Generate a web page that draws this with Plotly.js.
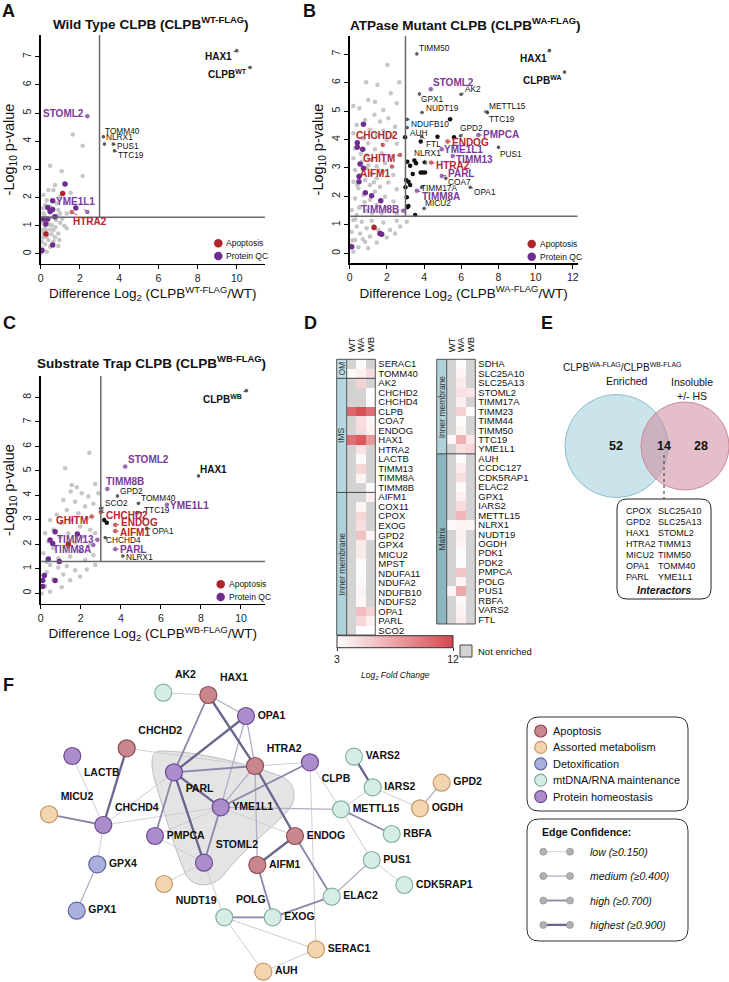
<!DOCTYPE html>
<html><head><meta charset="utf-8">
<script src="https://cdn.plot.ly/plotly-3.0.1.min.js"></script>
<style>html,body{margin:0;padding:0;background:#fff}</style>
</head><body><div id="chart" style="width:729px;height:982px"></div>
<script>
// ================= DATA =================
// Panel A : Wild type
const aGrayX = [1.63,2.14,0.48,1.07,2.14,0.73,0.39,0.65,1.53,0.14,0.31,0.99,1.24,0.82,0.22,0.48,0.9,0.99,1.33,0.14,0.1,0.1,0.22,0.48,0.65,0.99,1.33,0.9,0.14,0.39,0.73,0.95,0.22,0.48,0.9,0.05,0.31,0.14,0.27,0.56,0.78,0.1,0.65,0.05,0.0,0.6,0.35,0.2,1.1,0.45,0.75,0.3,0.55,1.2,0.85];
const aGrayY = [4.24,3.84,3.13,2.94,2.77,2.45,2.27,2.27,2.17,2.09,1.91,2.03,1.8,1.8,1.74,1.68,1.56,1.44,1.44,1.44,1.62,1.11,0.97,0.87,0.85,1.11,0.91,0.73,0.59,0.5,0.59,0.5,0.35,0.26,0.28,0.2,0.08,0.73,0.85,1.03,1.21,0.85,0.44,0.44,0.02,1.3,1.2,1.35,1.25,1.05,0.95,0.62,0.7,1.0,1.35];
const aPurpleX = [1.24,0.61,0.36,0.48,0.61,1.79,0.73,0.14,0.36,0.26,0.61,0.07];
const aPurpleY = [2.48,1.89,1.65,1.51,1.58,1.63,1.32,1.24,1.24,1.06,0.32,0.12];
const aRedX = [1.12,0.27];
const aRedY = [2.15,0.71];
const aLabelGenes = ['HAX1','CLPB<sup>WT</sup>','STOML2','TOMM40','NLRX1','PUS1','TTC19','YME1L1','HTRA2'];
const aLabelX = [10.0,10.68,2.38,3.2,3.25,3.7,3.76,2.38,1.58];
const aLabelY = [7.21,6.62,4.89,4.16,3.9,3.9,3.66,1.49,1.49];
const aLabelGroup = ['black','black','purple','black','black','black','black','purple','red'];

// Panel B : ATPase mutant
const bGrayX = [2.03,0.88,2.67,1.49,2.21,1.0,1.36,0.2,0.52,1.81,2.53,1.33,2.08,0.83,1.63,0.38,2.44,1.09,1.81,0.2,1.45,2.26,0.74,1.99,0.99,2.53,0.29,1.36,1.72,0.91,2.17,0.2,1.18,0.65,1.9,1.45,0.91,0.29,1.81,1.18,0.56,2.35,1.45,0.83,0.2,2.08,1.09,1.63,0.47,2.53,1.36,0.74,1.9,0.29,1.09,2.35,1.45,0.56,1.99,0.11,0.91,1.72,2.53,0.38,0.2,0.65,1.18,1.81,2.53,0.38,0.91,1.54,2.17,0.11,0.56,1.09,1.99,0.29,0.83,1.45,0.02,0.47,0.99,0.2,3.07,2.71,2.44,0.6,1.0,0.4,1.3,0.8,1.6,0.5,1.2,0.3,0.7,1.3,0.15];
const bGrayY = [6.62,6.01,6.01,5.92,5.63,5.39,5.33,5.18,5.1,5.04,5.28,4.87,4.75,4.69,4.63,4.51,4.45,4.34,4.31,4.22,4.16,4.13,4.04,3.99,3.87,3.85,3.69,3.66,3.52,3.46,3.4,3.34,3.28,3.22,3.17,3.05,2.99,2.93,2.87,2.81,2.75,2.75,2.64,2.58,2.52,2.49,2.4,2.34,2.29,2.25,2.17,2.05,1.99,1.93,1.88,1.82,1.7,1.64,1.58,1.52,1.5,1.41,1.41,1.35,1.17,1.11,1.15,1.08,1.15,0.94,0.88,0.82,0.82,0.76,0.7,0.59,0.56,0.47,0.41,0.38,0.29,0.21,0.18,0.06,1.11,0.94,0.7,3.5,3.1,2.4,2.5,1.8,2.9,1.6,1.4,1.2,0.5,0.95,0.45];
const bBlackX = [2.98,3.1,3.25,3.48,3.57,4.05,3.39,3.82,3.93,4.05,3.03,3.16,3.25,3.0,3.07,3.16,3.1,3.52,5.4,4.72,3.82,5.61];
const bBlackY = [4.08,3.22,3.08,3.26,3.17,3.19,2.79,2.84,2.84,2.84,2.58,2.52,2.4,2.32,1.97,1.66,1.62,1.35,4.71,4.1,3.93,4.08];
const bPurpleX = [0.74,0.41,0.41,0.7,0.56,0.74,0.5,0.5,0.84,1.18,1.67,1.63,1.72,0.11];
const bPurpleY = [4.54,3.89,3.73,3.66,3.14,2.99,2.7,2.52,2.13,2.02,1.85,0.7,0.67,0.23];
const bRedX = [1.31];
const bRedY = [0.91];
const bLabelGenes = ['TIMM50','HAX1','CLPB<sup>WA</sup>','STOML2','AK2','GPX1','NUDT19','METTL15','TTC19','NDUFB10','AUH','FTL','GPD2','PMPCA','ENDOG','PUS1','YME1L1','TIMM13','NLRX1','HTRA2','PARL','COA7','OPA1','TIMM17A','TIMM8A','MICU2','TIMM8B','CHCHD2','GHITM','AIFM1'];
const bLabelX = [3.61,10.74,11.55,4.36,5.99,3.75,3.89,7.32,7.41,3.09,3.09,3.87,5.97,6.92,5.26,8.0,4.95,5.54,4.0,4.38,4.95,5.17,6.48,3.87,3.61,4.0,2.89,1.78,2.71,2.27];
const bLabelY = [7.01,7.13,6.37,5.77,5.59,5.6,4.95,4.98,4.95,4.71,4.42,4.1,4.13,4.16,3.93,3.73,3.66,3.42,3.2,3.19,2.72,2.64,2.32,2.32,2.2,1.58,1.5,3.81,3.46,3.05];
const bLabelGroup = ['black','black','black','purple','black','black','black','black','black','black','black','black','black','purple','red','black','purple','purple','black','red','purple','black','black','black','purple','black','purple','red','red','red'];

// Panel C : Substrate trap
const cGrayX = [2.43,1.22,1.55,1.8,2.72,1.5,2.05,2.38,2.88,1.13,1.72,2.22,2.63,1.3,1.88,0.8,2.3,1.55,0.47,1.05,1.97,2.47,0.63,1.38,0.22,0.97,2.13,2.72,0.38,1.72,2.47,1.22,0.63,1.97,0.13,2.63,1.47,0.88,2.22,0.3,0.47,0.88,1.3,1.72,2.3,0.3,1.13,1.97,0.63,1.47,0.22,1.05,0.47,0.05,2.72,0.13];
const cGrayY = [5.74,5.1,4.42,4.33,4.46,4.15,4.08,3.95,4.08,3.81,3.74,3.54,3.65,3.4,3.27,3.2,3.06,2.99,2.99,2.86,2.72,2.59,2.59,2.45,2.45,2.29,2.31,2.45,2.11,2.07,1.97,1.9,1.84,1.7,1.63,1.56,1.5,1.43,1.36,1.29,1.15,1.05,1.11,0.94,0.97,0.86,0.76,0.68,0.56,0.53,0.29,0.24,0.06,-0.01,1.15,0.53];
const cBlackX = [3.17,3.3,3.02];
const cBlackY = [2.99,2.88,3.4];
const cPurpleX = [0.72,0.47,0.6,1.83,0.38,0.93,0.18,0.1,0.1,0.72];
const cPurpleY = [2.51,2.17,2.03,2.42,1.4,1.3,0.72,0.52,0.27,0.52];
const cRedX = [1.38];
const cRedY = [2.0];
const cLabelGenes = ['CLPB<sup>WB</sup>','HAX1','STOML2','TIMM8B','GPD2','TOMM40','YME1L1','SCO2','TTC19','CHCHD2','GHITM','ENDOG','AIFM1','OPA1','CHCHD4','TIMM13','TIMM8A','PARL','NLRX1'];
const cLabelX = [10.27,7.88,4.22,3.33,3.83,4.88,6.3,3.0,4.8,3.0,2.55,3.72,3.72,5.3,3.22,2.83,2.63,3.72,4.1];
const cLabelY = [8.27,4.79,5.17,4.26,3.97,3.67,3.61,3.47,3.27,3.31,3.13,2.79,2.54,2.65,2.27,2.18,1.97,1.8,1.52];
const cLabelGroup = ['black','black','purple','purple','black','black','purple','black','black','red','red','red','red','black','black','purple','purple','purple','black'];

const pThreshold = 1.3;
const fcThreshold = 3;

// Panel D : heatmaps (Log2 fold change, null = not enriched)
const dColumns = ['WT','WA','WB'];
const dLeftGenes = ['SERAC1','TOMM40','AK2','CHCHD2','CHCHD4','CLPB','COA7','ENDOG','HAX1','HTRA2','LACTB','TIMM13','TIMM8A','TIMM8B','AIFM1','COX11','CPOX','EXOG','GPD2','GPX4','MICU2','MPST','NDUFA11','NDUFA2','NDUFB10','NDUFS2','OPA1','PARL','SCO2'];
const dLeftWT = [null,3.3,null,null,null,10.5,null,null,10.0,null,null,null,null,null,null,null,null,null,null,null,null,null,null,null,null,null,null,null,null];
const dLeftWA = [3.3,3.8,5.2,null,null,11.5,4.6,4.8,11.0,4.4,3.3,5.0,3.6,null,null,3.6,5.0,4.6,6.0,4.0,4.0,3.2,3.2,3.3,3.5,3.3,6.2,5.0,3.1];
const dLeftWB = [null,4.8,null,3.1,3.2,10.0,3.6,3.8,8.0,null,null,null,null,3.3,3.8,null,null,null,3.6,null,null,null,null,null,null,null,5.2,3.8,3.1];
const dLeftGroups = ['OM','IMS','Inner membrane'];
const dLeftGroupSizes = [2,12,15];
const dRightGenes = ['SDHA','SLC25A10','SLC25A13','STOML2','TIMM17A','TIMM23','TIMM44','TIMM50','TTC19','YME1L1','AUH','CCDC127','CDK5RAP1','ELAC2','GPX1','IARS2','METTL15','NLRX1','NUDT19','OGDH','PDK1','PDK2','PMPCA','POLG','PUS1','RBFA','VARS2','FTL'];
const dRightWT = [null,null,null,null,null,null,null,null,3.4,null,null,null,null,null,null,null,null,3.3,null,null,null,null,null,null,3.5,null,null,null];
const dRightWA = [3.2,3.5,4.0,4.4,3.8,5.2,3.2,3.6,6.8,4.5,3.2,3.9,4.6,3.3,3.8,4.8,6.5,3.6,3.7,3.5,3.2,3.2,5.8,3.5,7.2,3.4,3.6,3.9];
const dRightWB = [null,null,null,4.2,null,3.2,null,null,4.2,5.0,null,null,null,null,null,null,null,3.6,null,null,null,null,null,null,null,null,null,null];
const dRightGroups = ['Inner membrane','Matrix'];
const dRightGroupSizes = [10,18];
const dScaleMin = 3, dScaleMax = 12;

// Panel E : Venn
const vennLeftOnly = 52, vennShared = 14, vennRightOnly = 28;
const interactorsCol1 = ['CPOX','GPD2','HAX1','HTRA2','MICU2','OPA1','PARL'];
const interactorsCol2 = ['SLC25A10','SLC25A13','STOML2','TIMM13','TIMM50','TOMM40','YME1L1'];

// Panel F : network (layout coordinates)
const nodeNames = ['AK2','HAX1','OPA1','CHCHD2','LACTB','PARL','HTRA2','CLPB','VARS2','IARS2','GPD2','OGDH','MICU2','CHCHD4','YME1L1','METTL15','PMPCA','ENDOG','RBFA','STOML2','AIFM1','PUS1','GPX4','NUDT19','CDK5RAP1','ELAC2','GPX1','POLG','EXOG','SERAC1','AUH'];
const nodeX = [163.3,208.3,246,126.7,72.3,174,255,310,354,372.7,441.7,420,49,103.3,220.7,341,155,295,391.7,204,257.3,371.7,97.3,164,404.3,331.7,76.7,224.3,272.7,316,263.3];
const nodeY = [692.7,695,716,748.3,756,772.3,766,762.3,756.7,787.3,782.7,808.3,814.3,825,807.3,809.3,836,836,834,862.7,865,860,864.3,884,885,896.7,910.7,917.3,917.3,949.3,971.7];
const nodeCategory = ['mt','apo','prot','apo','prot','prot','apo','prot','mt','mt','met','met','met','prot','prot','mt','prot','apo','mt','prot','apo','mt','detox','met','mt','mt','detox','mt','mt','met','met'];
const edgeFrom = ['AK2','HAX1','HAX1','HAX1','OPA1','OPA1','OPA1','CHCHD2','CHCHD2','LACTB','MICU2','CHCHD4','CHCHD4','CHCHD4','GPX4','PARL','PARL','PARL','PARL','HTRA2','HTRA2','HTRA2','HTRA2','YME1L1','YME1L1','YME1L1','YME1L1','YME1L1','PMPCA','STOML2','STOML2','ENDOG','ENDOG','AIFM1','CLPB','CLPB','VARS2','IARS2','IARS2','GPD2','METTL15','METTL15','PUS1','PUS1','ELAC2','POLG','POLG','POLG','AUH'];
const edgeTo   = ['HAX1','OPA1','PARL','HTRA2','PARL','HTRA2','YME1L1','CHCHD4','HTRA2','CHCHD4','CHCHD4','PARL','YME1L1','GPX4','GPX1','HTRA2','YME1L1','PMPCA','STOML2','CLPB','YME1L1','ENDOG','AIFM1','CLPB','STOML2','PMPCA','METTL15','ENDOG','STOML2','NUDT19','POLG','AIFM1','ELAC2','EXOG','METTL15','SERAC1','IARS2','METTL15','OGDH','OGDH','RBFA','PUS1','CDK5RAP1','ELAC2','EXOG','EXOG','SERAC1','AUH','SERAC1'];
const edgeConf = [1,2,3,4,4,2,2,4,1,1,3,1,1,1,2,3,4,3,4,1,2,4,2,3,3,1,2,1,1,1,1,4,3,3,1,1,4,1,1,2,3,1,1,2,3,3,1,1,1];

// ================= STYLE / LAYOUT =================
const W = 729, H = 982;
const FONT = 'Liberation Sans, Arial, Helvetica, sans-serif';
const dx = (a,b) => [a/W, b/W];
const dy = (a,b) => [1-b/H, 1-a/H];
const COL = {gray:'#c6c6c6', black:'#111111', red:'#b0242c', purple:'#6f2d91'};
const TXT = {red:'#b3262d', purple:'#7a3a9a', black:'#111111'};

const traces = [];
const annotations = [];
const shapes = [];

function scatterPanel(xa, ya, gx, gy, kx, ky, px_, py_, rx, ry, lg, lx, ly, lgrp, offsets) {
  traces.push({type:'scatter', mode:'markers', x:gx, y:gy, xaxis:xa, yaxis:ya, marker:{size:4.5, color:COL.gray}, cliponaxis:false, hoverinfo:'skip'});
  if (kx) traces.push({type:'scatter', mode:'markers', x:kx, y:ky, xaxis:xa, yaxis:ya, marker:{size:4.5, color:COL.black}, cliponaxis:false, hoverinfo:'skip'});
  traces.push({type:'scatter', mode:'markers', x:rx, y:ry, xaxis:xa, yaxis:ya, marker:{size:5.5, color:COL.red}, cliponaxis:false, hoverinfo:'skip'});
  traces.push({type:'scatter', mode:'markers', x:px_, y:py_, xaxis:xa, yaxis:ya, marker:{size:5.5, color:COL.purple}, cliponaxis:false, hoverinfo:'skip'});
  traces.push({type:'scatter', mode:'markers', x:lx, y:ly, xaxis:xa, yaxis:ya, marker:{size:lgrp.map(g=>g==='black'?4.5:5.5), color:lgrp.map(g=>COL[g])}, cliponaxis:false, hoverinfo:'skip'});
  lg.forEach((g,i)=>{
    const grp = lgrp[i];
    const big = g.startsWith('HAX1') || g.startsWith('CLPB');
    let text, size;
    if (grp === 'black') { text = big ? '<b>'+g+'</b>' : g; size = big ? 10 : 8.3; }
    else { text = '<b>'+g+'</b>'; size = 10; }
    const off = offsets[g];
    annotations.push({x:lx[i], y:ly[i], xref:xa, yref:ya, text:text, showarrow:true, arrowhead:0, arrowwidth:0.8,
      arrowcolor: TXT[grp], ax:off[0], ay:off[1], standoff:1.5, font:{size:size, color:TXT[grp], family:FONT}});
  });
}

const offA = {'HAX1':[-18,6],'CLPB<sup>WT</sup>':[-23,7],'STOML2':[-24,-3],'TOMM40':[19,-6],'NLRX1':[15,-7],'PUS1':[15,2],'TTC19':[17,4],'YME1L1':[-12,-10],'HTRA2':[18,10]};
const offB = {'TIMM50':[18,-6],'HAX1':[-16,8],'CLPB<sup>WA</sup>':[-22,8],'STOML2':[23,-7],'AK2':[12,-5],'GPX1':[13,5],'NUDT19':[20,-5],'METTL15':[22,-6],'TTC19':[14,6],'NDUFB10':[23,5],'AUH':[12,5],'FTL':[12,7],'GPD2':[11,-8],'PMPCA':[23,0],'ENDOG':[23,1],'PUS1':[13,7],'YME1L1':[22,0],'TIMM13':[22,3],'NLRX1':[3,-9],'HTRA2':[22,3],'PARL':[19,-2],'COA7':[14,4],'OPA1':[15,5],'TIMM17A':[17,1],'TIMM8A':[24,6],'MICU2':[14,-5],'TIMM8B':[-23,-1],'CHCHD2':[-6,-9],'GHITM':[-21,4],'AIFM1':[-17,7]};
const offC = {'CLPB<sup>WB</sup>':[-24,8],'HAX1':[15,-6],'STOML2':[23,-7],'TIMM8B':[18,-7],'GPD2':[14,-5],'TOMM40':[20,-5],'YME1L1':[23,1],'SCO2':[16,-5],'TTC19':[20,-3],'CHCHD2':[26,3],'GHITM':[-20,4],'ENDOG':[24,-2],'AIFM1':[20,1],'OPA1':[16,3],'CHCHD4':[18,2],'TIMM13':[-22,0],'TIMM8A':[-21,5],'PARL':[18,0],'NLRX1':[17,1]};

scatterPanel('x','y',aGrayX,aGrayY,null,null,aPurpleX,aPurpleY,aRedX,aRedY,aLabelGenes,aLabelX,aLabelY,aLabelGroup,offA);
scatterPanel('x2','y2',bGrayX,bGrayY,bBlackX,bBlackY,bPurpleX,bPurpleY,bRedX,bRedY,bLabelGenes,bLabelX,bLabelY,bLabelGroup,offB);
scatterPanel('x3','y3',cGrayX,cGrayY,cBlackX,cBlackY,cPurpleX,cPurpleY,cRedX,cRedY,cLabelGenes,cLabelX,cLabelY,cLabelGroup,offC);

// thresholds
[['x','y',11.44,7.77],['x2','y2',12.26,7.65],['x3','y3',11.2,8.87]].forEach(([xa,ya,xmax,ytop])=>{
  shapes.push({type:'line', xref:xa, yref:ya, x0:0, x1:xmax, y0:pThreshold, y1:pThreshold, line:{color:'#6a6a6a', width:1.5}});
  shapes.push({type:'line', xref:xa, yref:ya, x0:fcThreshold, x1:fcThreshold, y0:pThreshold, y1:ytop, line:{color:'#6a6a6a', width:1.5}});
});

// axis styling
const axBase = {showline:true, linecolor:'#000', linewidth:1.2, ticks:'outside', ticklen:4, tickwidth:1, tickcolor:'#000',
  showgrid:false, zeroline:false, tickfont:{size:10.5, color:'#222', family:FONT}, fixedrange:true};
function xAx(dom, range, tv, title, anchor){
  return Object.assign({}, axBase, {domain:dom, range:range, tickvals:tv, anchor:anchor,
    title:{text:title, font:{size:13.5, color:'#111', family:FONT}, standoff:3}});
}
function yAx(dom, range, tv, anchor){
  return Object.assign({}, axBase, {domain:dom, range:range, tickvals:tv, anchor:anchor, tickangle:-90,
    title:{text:'-Log<sub>10</sub> p-value', font:{size:14.5, color:'#111', family:FONT}, standoff:3}});
}

// annotations on the pixel overlay axis x6/y6
function pann(x, y, text, size, opts) {
  annotations.push(Object.assign({x:x, y:y, xref:'x6', yref:'y6', text:text, showarrow:false,
    font:{size:size, color:'#111', family:FONT}}, opts||{}));
}
pann(151, 23, '<b>Wild Type CLPB (CLPB<sup>WT-FLAG</sup>)</b>', 13.5);
pann(465.5, 23.5, '<b>ATPase Mutant CLPB (CLPB<sup>WA-FLAG</sup>)</b>', 13.5);
pann(151.7, 362, '<b>Substrate Trap CLPB (CLPB<sup>WB-FLAG</sup>)</b>', 13.5);
[['A',8,11],['B',309,11],['C',9,323],['D',310,323],['E',547,323],['F',8,685]].forEach(([t,x,y])=>pann(x,y,'<b>'+t+'</b>',18));

const legPos = [[218.3,243.3],[531.7,244],[220.7,584.3]];
const legX = [], legY = [], legC = [];
legPos.forEach(([x,y])=>{
  legX.push(x, x); legY.push(y, y+12.7); legC.push(COL.red, COL.purple);
  pann(x+6, y, 'Apoptosis', 8.5, {xanchor:'left'});
  pann(x+6, y+12.7, 'Protein QC', 8.5, {xanchor:'left'});
});
traces.push({type:'scatter', mode:'markers', x:legX, y:legY, xaxis:'x6', yaxis:'y6', marker:{size:8.5, color:legC}, hoverinfo:'skip', cliponaxis:false});

// ---------- Panel D heatmaps ----------
const heatScale = [[0,'#ffffff'],[1,'#d6474d']];
function heatPanel(genes, wt, wa, wb, xa, ya, showscale) {
  const z = genes.map((g,i)=>[wt[i], wa[i], wb[i]]);
  const mask = z.map(r=>r.map(v=> v===null ? 1 : null));
  traces.push({type:'heatmap', x:dColumns, y:genes, z:mask, xaxis:xa, yaxis:ya, zmin:0, zmax:1,
    colorscale:[[0,'#d3d3d3'],[1,'#d3d3d3']], showscale:false, hoverinfo:'skip'});
  const t = {type:'heatmap', x:dColumns, y:genes, z:z, xaxis:xa, yaxis:ya, zmin:dScaleMin, zmax:dScaleMax,
    colorscale:heatScale, showscale:showscale, hoverinfo:'skip'};
  if (showscale) t.colorbar = {orientation:'h', thickness:12, thicknessmode:'pixels', len:116, lenmode:'pixels',
    x:395/W, xanchor:'center', y:1-651/H, yanchor:'middle', xpad:0, ypad:0, outlinewidth:1, outlinecolor:'#333',
    tickvals:[dScaleMin, dScaleMax], ticks:'outside', ticklen:3, tickcolor:'#333', tickfont:{size:10.5, family:FONT, color:'#222'}};
  traces.push(t);
}
heatPanel(dLeftGenes, dLeftWT, dLeftWA, dLeftWB, 'x4', 'y4', true);
heatPanel(dRightGenes, dRightWT, dRightWA, dRightWB, 'x5', 'y5', false);

const groupColors = {'OM':'#c0dee4','IMS':'#b6d7df','Inner membrane':'#b0d2db','Matrix':'#8cb6c0'};
function catBar(groups, sizes, top, bottom, bx0, bx1, cx1) {
  const n = sizes.reduce((a,b)=>a+b,0);
  const rh = (bottom-top)/n;
  let r = 0;
  groups.forEach((g,i)=>{
    const y0 = top + r*rh, y1 = top + (r+sizes[i])*rh;
    shapes.push({type:'rect', xref:'x6', yref:'y6', x0:bx0, x1:bx1, y0:y0, y1:y1, fillcolor:groupColors[g], line:{width:0}, layer:'below'});
    pann((bx0+bx1)/2, (y0+y1)/2, g, 8.5, {textangle:-90, font:{size:8.5, color:'#333', family:FONT}});
    if (i < groups.length-1) shapes.push({type:'line', xref:'x6', yref:'y6', x0:bx0, x1:cx1, y0:y1, y1:y1, line:{color:'#333', width:0.9}});
    r += sizes[i];
  });
  shapes.push({type:'rect', xref:'x6', yref:'y6', x0:bx0, x1:cx1, y0:top, y1:bottom, line:{color:'#444', width:0.9}});
  shapes.push({type:'line', xref:'x6', yref:'y6', x0:bx1, x1:bx1, y0:top, y1:bottom, line:{color:'#444', width:0.9}});
}
catBar(dLeftGroups, dLeftGroupSizes, 359.3, 635, 336.7, 346.7, 375.3);
catBar(dRightGroups, dRightGroupSizes, 359.3, 624, 436.7, 446.7, 475.3);

shapes.push({type:'rect', xref:'x6', yref:'y6', x0:460, x1:472, y0:645, y1:657, fillcolor:'#d3d3d3', line:{color:'#333', width:0.9}});
pann(476, 651, 'Not enriched', 9.5, {xanchor:'left'});
pann(395, 675, '<i>Log<sub>2</sub> Fold Change</i>', 8.5);

// ---------- Panel E Venn ----------
shapes.push({type:'circle', xref:'x6', yref:'y6', x0:565, x1:668, y0:394.5, y1:497.5, fillcolor:'rgba(168,208,221,0.6)', line:{color:'#8dbdcb', width:1}});
shapes.push({type:'circle', xref:'x6', yref:'y6', x0:641, x1:729, y0:402, y1:490, fillcolor:'rgba(205,137,157,0.55)', line:{color:'#c98b9d', width:1}});
pann(616, 446, '<b>'+vennLeftOnly+'</b>', 12.5);
pann(664, 446, '<b>'+vennShared+'</b>', 12.5);
pann(701, 446, '<b>'+vennRightOnly+'</b>', 12.5);
pann(622, 367, 'CLPB<sup>WA-FLAG</sup>/CLPB<sup>WB-FLAG</sup>', 10);
pann(627, 381, 'Enriched', 10.5);
pann(692, 382, 'Insoluble', 10.5);
pann(692, 396, '+/- HS', 10.5);
shapes.push({type:'line', xref:'x6', yref:'y6', x0:664, x1:664, y0:455, y1:499, line:{color:'#333', width:1, dash:'dot'}});
function rr(x0,y0,x1,y1,r){return `M${x0+r},${y0} L${x1-r},${y0} Q${x1},${y0} ${x1},${y0+r} L${x1},${y1-r} Q${x1},${y1} ${x1-r},${y1} L${x0+r},${y1} Q${x0},${y1} ${x0},${y1-r} L${x0},${y0+r} Q${x0},${y0} ${x0+r},${y0} Z`;}
shapes.push({type:'path', xref:'x6', yref:'y6', path:rr(617,499,711,599,10), fillcolor:'#ffffff', line:{color:'#222', width:1}});
interactorsCol1.forEach((g,i)=>pann(624, 510.5+i*11.1, g, 9, {xanchor:'left'}));
interactorsCol2.forEach((g,i)=>pann(656, 510.5+i*11.1, g, 9, {xanchor:'left'}));
pann(664, 590, '<b><i>Interactors</i></b>', 10.5);

// ---------- Panel F network ----------
const catStyle = {
  apo:{fill:'#c9878d', line:'#8e4b53', name:'Apoptosis'},
  met:{fill:'#f3d5b0', line:'#c49a6c', name:'Assorted metabolism'},
  detox:{fill:'#aab0db', line:'#5e65a3', name:'Detoxification'},
  mt:{fill:'#d5ede6', line:'#86b0a4', name:'mtDNA/RNA maintenance'},
  prot:{fill:'#ab8ccc', line:'#6d4b90', name:'Protein homeostasis'}
};
const confStyle = {1:{w:1,c:'#cdcdd5'},2:{w:1.3,c:'#b0b0c4'},3:{w:1.8,c:'#8787a8'},4:{w:2.3,c:'#66668e'}};
const labelPos = {AK2:'top right',HAX1:'top right',CHCHD2:'top right',LACTB:'bottom right',PARL:'bottom right',HTRA2:'top right',CLPB:'bottom right',MICU2:'top right',CHCHD4:'top right',STOML2:'top right',NUDT19:'bottom right',POLG:'top right'};

shapes.push({type:'path', xref:'x6', yref:'y6', layer:'below',
  path:'M160,751 C200,751 250,765 280,776 C297,782 298,801 286,813 C266,833 242,851 226,872 C215,888 194,889 186,875 C175,850 165,815 155,781 C150,763 151,751 160,751 Z',
  fillcolor:'#e4e4e4', line:{color:'#bdbdbd', width:1}});

[1,2,3,4].forEach(c=>{
  const ex = [], ey = [];
  edgeFrom.forEach((f,i)=>{
    if (edgeConf[i] !== c) return;
    const a = nodeNames.indexOf(f), b = nodeNames.indexOf(edgeTo[i]);
    ex.push(nodeX[a], nodeX[b], null); ey.push(nodeY[a], nodeY[b], null);
  });
  traces.push({type:'scatter', mode:'lines', x:ex, y:ey, xaxis:'x6', yaxis:'y6', line:{color:confStyle[c].c, width:confStyle[c].w}, hoverinfo:'skip', cliponaxis:false});
});
traces.push({type:'scatter', mode:'markers+text', x:nodeX, y:nodeY, xaxis:'x6', yaxis:'y6',
  text:nodeNames.map(n=>'<b>'+n+'</b>'),
  textposition:nodeNames.map(n=>labelPos[n]||'middle right'),
  textfont:{size:10.5, color:'#111', family:FONT},
  marker:{size:17, color:nodeCategory.map(c=>catStyle[c].fill), line:{color:nodeCategory.map(c=>catStyle[c].line), width:1.2}},
  hoverinfo:'skip', cliponaxis:false});

// legends for F
shapes.push({type:'path', xref:'x6', yref:'y6', path:rr(527,717,688,811,12), line:{color:'#333', width:1}});
shapes.push({type:'path', xref:'x6', yref:'y6', path:rr(527,819,688,941,12), line:{color:'#333', width:1}});
const catOrder = ['apo','met','detox','mt','prot'];
const lgx = [], lgy = [];
catOrder.forEach((c,i)=>{
  const y = 731 + i*16.4;
  lgx.push(540.7); lgy.push(y);
  pann(551, y, catStyle[c].name, 11, {xanchor:'left'});
});
traces.push({type:'scatter', mode:'markers', x:lgx, y:lgy, xaxis:'x6', yaxis:'y6',
  marker:{size:12, color:catOrder.map(c=>catStyle[c].fill), line:{color:catOrder.map(c=>catStyle[c].line), width:1.2}}, hoverinfo:'skip'});
pann(540, 832, '<b>Edge Confidence:</b>', 10.5, {xanchor:'left'});
const confLabels = ['low (≥0.150)','medium (≥0.400)','high (≥0.700)','highest (≥0.900)'];
confLabels.forEach((t,i)=>{
  const y = 851.7 + i*24.4, c = confStyle[i+1];
  traces.push({type:'scatter', mode:'lines+markers', x:[543.3,570], y:[y,y], xaxis:'x6', yaxis:'y6',
    line:{color:c.c, width:c.w}, marker:{size:7, color:'#b0b0b0', line:{color:'#999', width:0.8}}, hoverinfo:'skip'});
  pann(587.7, y, '<i>'+t+'</i>', 10.5, {xanchor:'left'});
});

// ================= LAYOUT =================
const heatX = (dom, anchor) => ({domain:dom, anchor:anchor, side:'top', type:'category', range:[-0.5,2.5], tickmode:'array', tickvals:dColumns, ticktext:dColumns, tickangle:-90, ticks:'', showline:false, showgrid:false, zeroline:false, tickfont:{size:9.5, family:FONT, color:'#111'}, ticklabelstandoff:6, fixedrange:true});
const heatY = (dom, anchor, genes) => ({domain:dom, anchor:anchor, side:'right', type:'category', range:[genes.length-0.5,-0.5], tickmode:'array', tickvals:genes, ticktext:genes, ticks:'', showline:false, showgrid:false, zeroline:false, tickfont:{size:9.5, family:FONT, color:'#111'}, ticklabelstandoff:2, fixedrange:true});
const layout = {
  width:W, height:H, margin:{l:0,r:0,t:0,b:0}, paper_bgcolor:'#fff', plot_bgcolor:'rgba(0,0,0,0)',
  showlegend:false, font:{family:FONT, color:'#111'},
  xaxis: xAx(dx(40.5,265), [-0.01,11.44], [0,2,4,6,8,10], 'Difference Log<sub>2</sub> (CLPB<sup>WT-FLAG</sup>/WT)', 'y'),
  yaxis: yAx(dy(35,264), [-0.355,7.77], [0,1,2,3,4,5,6,7], 'x'),
  xaxis2: xAx(dx(349.5,577.7), [-0.01,12.26], [0,2,4,6,8,10,12], 'Difference Log<sub>2</sub> (CLPB<sup>WA-FLAG</sup>/WT)', 'y2'),
  yaxis2: yAx(dy(35.7,263.3), [-0.35,7.65], [0,1,2,3,4,5,6,7], 'x2'),
  xaxis3: xAx(dx(40.5,265), [-0.01,11.2], [0,2,4,6,8,10], 'Difference Log<sub>2</sub> (CLPB<sup>WB-FLAG</sup>/WT)', 'y3'),
  yaxis3: yAx(dy(376,604), [-0.44,8.87], [0,1,2,3,4,5,6,7,8], 'x3'),
  xaxis4: heatX(dx(346.7,375.3), 'y4'),
  yaxis4: heatY(dy(359.3,635), 'x4', dLeftGenes),
  xaxis5: heatX(dx(446.7,475.3), 'y5'),
  yaxis5: heatY(dy(359.3,624), 'x5', dRightGenes),
  xaxis6: {domain:[0,1], range:[0,W], visible:false, anchor:'y6', fixedrange:true},
  yaxis6: {domain:[0,1], range:[H,0], visible:false, anchor:'x6', fixedrange:true},
  shapes: shapes,
  annotations: annotations
};
Plotly.newPlot('chart', traces, layout, {displayModeBar:false, staticPlot:true});
</script></body></html>
